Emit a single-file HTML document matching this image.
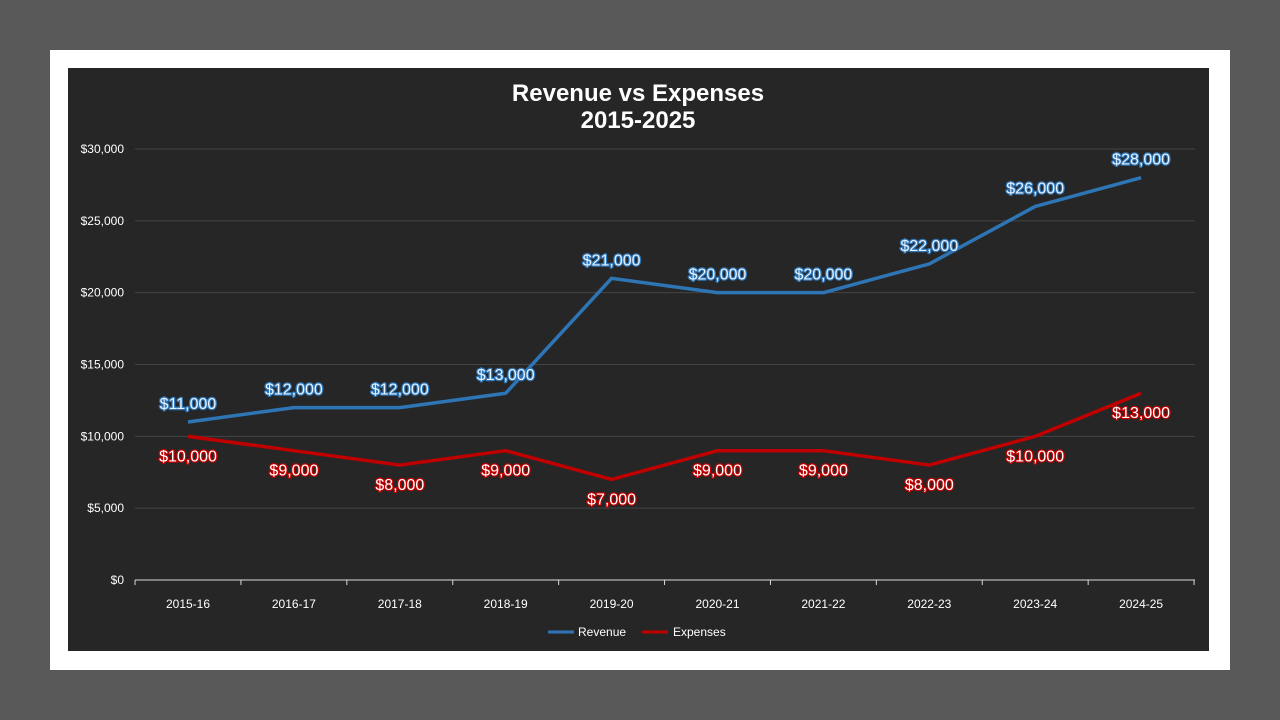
<!DOCTYPE html>
<html><head><meta charset="utf-8">
<style>
html,body{margin:0;padding:0;background:#595959;width:1280px;height:720px;overflow:hidden;font-family:"Liberation Sans",Arial,sans-serif;}
#frame{position:absolute;left:50px;top:50px;width:1180px;height:620px;background:#fff;}
svg{position:absolute;left:0;top:0;}
</style></head><body>
<div id="frame"></div>
<svg id="chart" width="1280" height="720">
  <rect x="68" y="68" width="1141" height="583" fill="#262626"/>
  <text x="638" y="101" text-anchor="middle" fill="#fff" font-size="24" font-weight="bold">Revenue vs Expenses</text>
  <text x="638" y="128" text-anchor="middle" fill="#fff" font-size="24" font-weight="bold">2015-2025</text>
  <g id="grid"></g><g id="xaxis"></g><g id="series"></g><g id="labels"></g>
  <g>
    <line x1="548" y1="632" x2="574" y2="632" stroke="#2e75b6" stroke-width="3"/>
    <text x="578" y="636" fill="#fff" font-size="12">Revenue</text>
    <line x1="642" y1="632" x2="668" y2="632" stroke="#c00000" stroke-width="3"/>
    <text x="673" y="636" fill="#fff" font-size="12">Expenses</text>
  </g>
</svg>
<script>
const categories = ["2015-16","2016-17","2017-18","2018-19","2019-20","2020-21","2021-22","2022-23","2023-24","2024-25"];
const revenue = [11000,12000,12000,13000,21000,20000,20000,22000,26000,28000];
const expenses = [10000,9000,8000,9000,7000,9000,9000,8000,10000,13000];
const yTicks = [0,5000,10000,15000,20000,25000,30000];
const NS="http://www.w3.org/2000/svg";
const x0=188, step=105.9, yBase=580, yTop=149, yMax=30000;
function xs(i){return x0+i*step;}
function ys(v){return yBase-(v/yMax)*(yBase-yTop);}
function fmt(v){return "$"+v.toLocaleString("en-US");}
function mk(tag,attrs,parent){const e=document.createElementNS(NS,tag);for(const k in attrs)e.setAttribute(k,attrs[k]);parent.appendChild(e);return e;}
const grid=document.getElementById('grid');
yTicks.forEach(t=>{
  if(t>0){const l=mk('line',{x1:135,x2:1195,y1:ys(t),y2:ys(t),stroke:'#444','stroke-width':1},grid);
  
  }
  const tx=mk('text',{x:124,y:ys(t)+4,'text-anchor':'end',fill:'#fff','font-size':12},grid);
  tx.textContent=fmt(t);
  
  
});
const xa=document.getElementById('xaxis');
const al=mk('line',{x1:135,x2:1195,y1:yBase,y2:yBase,stroke:'#d9d9d9','stroke-width':1},xa);


for(let i=0;i<=categories.length;i++){
  const xx=x0-step/2+i*step;
  mk('line',{x1:xx,x2:xx,y1:yBase,y2:yBase+5,stroke:'#d9d9d9'},xa);
}
categories.forEach((c,i)=>{
  const t=mk('text',{x:xs(i),y:608,'text-anchor':'middle',fill:'#fff','font-size':12},xa);
  t.textContent=c;
  
  
});
const ser=document.getElementById('series'), lab=document.getElementById('labels');
function drawSeries(vals,color,name,dy,stroke,fill){
  const pts=vals.map((v,i)=>xs(i)+','+ys(v)).join(' ');
  const p=mk('polyline',{points:pts,fill:'none',stroke:color,'stroke-width':3.5,'stroke-linejoin':'round'},ser);
  
  
  vals.forEach((v,i)=>{
    const t=mk('text',{x:xs(i),y:ys(v)+dy,'text-anchor':'middle',fill:fill,'font-size':16,stroke:stroke,'stroke-width':2.5,'paint-order':'stroke','stroke-linejoin':'round'},lab);
    t.textContent=fmt(v);
    
    
  });
}
drawSeries(revenue,'#2e75b6','revenue',-13,'#2e75b6','#e6f2ff');
drawSeries(expenses,'#c00000','expenses',25,'#c00000','#ffffff');
</script>
</body></html>
